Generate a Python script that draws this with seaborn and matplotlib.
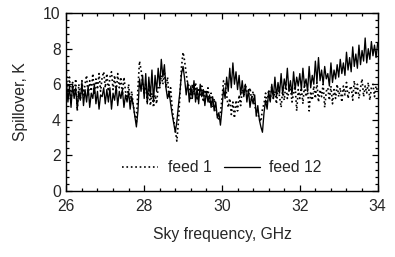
import numpy as np
import pandas as pd
import matplotlib
matplotlib.use("Agg")
import matplotlib.pyplot as plt
from matplotlib.ticker import MultipleLocator
import seaborn as sns

# Spillover vs sky frequency, 26-34 GHz in 0.04 GHz steps
freq = np.round(np.arange(26.0, 34.0001, 0.04), 2)

feed_1 = [
    # 26
    6.7, 5.3, 6.4, 5.0, 6.1, 5.4, 6.3, 4.5, 6.0, 5.1, 6.2, 5.4, 6.0, 6.5, 5.3, 6.2, 5.6, 6.6, 5.4, 6.3, 5.7, 6.6, 5.6, 6.4, 6.7,
    # 27
    5.8, 6.6, 5.6, 6.4, 6.7, 5.7, 6.5, 5.5, 6.6, 5.8, 6.4, 5.4, 6.4, 5.6, 5.2, 6.0, 5.0, 5.6, 4.8, 4.3, 3.8, 5.8, 7.3, 6.8, 6.1,
    # 28
    5.5, 6.0, 5.0, 5.8, 4.8, 5.5, 4.7, 5.4, 4.9, 5.9, 5.8, 6.5, 6.0, 6.7, 5.8, 6.4, 5.2, 5.8, 4.6, 4.0, 3.4, 2.8, 3.9, 5.5, 7.0,
    # 29
    7.8, 7.3, 6.6, 6.0, 5.9, 5.2, 6.0, 5.4, 6.1, 5.1, 5.8, 5.3, 5.9, 5.0, 5.7, 5.2, 5.8, 4.9, 5.5, 4.7, 5.2, 4.6, 4.3, 4.0, 4.4,
    # 30
    5.2, 6.2, 6.0, 5.4, 4.7, 5.2, 4.3, 5.0, 4.1, 5.1, 4.5, 5.4, 4.8, 5.7, 5.4, 6.0, 5.6, 5.3, 5.8, 5.1, 5.6, 4.8, 4.5, 4.3, 4.1,
    # 31
    3.9, 4.6, 4.9, 5.5, 4.9, 5.7, 5.1, 5.9, 5.2, 5.6, 4.9, 5.8, 5.3, 4.7, 5.7, 5.1, 6.0, 5.2, 5.6, 5.8, 5.0, 5.5, 5.9, 4.5, 5.7,
    # 32
    5.2, 5.8, 4.9, 6.0, 5.3, 5.7, 4.5, 5.6, 5.1, 5.9, 5.2, 6.1, 5.0, 5.7, 5.3, 6.0, 4.7, 5.6, 5.8, 5.1, 5.9, 4.9, 5.7, 5.2, 6.0,
    # 33
    5.3, 5.8, 5.0, 5.9, 5.4, 6.1, 5.2, 5.7, 5.9, 5.1, 6.2, 5.4, 6.0, 5.2, 5.8, 6.3, 5.3, 5.9, 5.5, 6.1, 5.1, 5.8, 6.0, 5.3, 5.9,
    # 34
    5.6,
]

feed_12 = [
    # 26
    6.2, 5.0, 5.9, 4.7, 6.0, 5.2, 5.8, 4.6, 5.6, 5.1, 6.1, 4.8, 5.7, 5.0, 5.9, 4.7, 5.5, 5.2, 6.0, 4.9, 5.6, 4.6, 5.4, 5.3, 5.8,
    # 27
    4.9, 5.7, 5.0, 5.8, 4.6, 5.5, 5.1, 5.9, 4.8, 5.6, 5.2, 5.7, 4.7, 5.4, 5.0, 5.6, 4.6, 5.3, 4.8, 4.2, 3.6, 4.5, 6.3, 5.6, 6.5,
    # 28
    5.2, 6.6, 4.9, 6.4, 5.3, 6.8, 5.0, 6.5, 5.6, 6.9, 5.9, 7.4, 6.4, 7.1, 5.8, 5.2, 5.6, 4.9, 4.3, 3.8, 3.3, 3.9, 4.8, 5.6, 6.6,
    # 29
    7.0, 6.3, 5.4, 6.1, 5.0, 5.9, 5.2, 6.2, 5.0, 5.8, 4.9, 6.0, 5.3, 5.7, 4.8, 5.6, 5.0, 5.4, 4.7, 5.3, 4.5, 5.0, 4.1, 4.4, 3.7,
    # 30
    4.6, 5.8, 5.2, 6.4, 5.6, 6.9, 5.8, 7.2, 6.0, 6.7, 5.7, 6.5, 5.4, 6.2, 5.3, 6.0, 5.0, 5.7, 4.7, 5.3, 4.9, 5.4, 4.2, 4.8, 4.0,
    # 31
    3.6, 3.3, 4.4, 5.1, 4.6, 5.6, 5.0, 6.0, 5.2, 6.4, 5.3, 6.1, 5.5, 6.6, 5.4, 6.3, 5.8, 6.9, 5.6, 6.2, 5.4, 6.7, 5.7, 6.4, 5.9,
    # 32
    6.6, 5.7, 6.9, 5.9, 6.3, 5.6, 7.0, 5.8, 6.5, 6.0, 7.3, 6.1, 7.5, 6.2, 6.8, 6.0, 7.0, 6.3, 6.6, 5.9, 7.2, 6.1, 6.8, 6.3, 7.1,
    # 33
    6.4, 7.4, 6.6, 7.2, 6.5, 7.8, 6.8, 7.5, 6.7, 8.1, 7.0, 7.7, 6.9, 8.2, 7.1, 7.9, 7.3, 8.6, 7.2, 8.0, 7.4, 8.4, 7.6, 8.2, 7.5,
    # 34
    8.3,
]

sns.set_style("ticks")
plt.rcParams['font.family'] = ['Liberation Sans', 'DejaVu Sans']

fs = 11.3
fig = plt.figure(figsize=(3.95, 2.57), dpi=100)
ax = fig.add_axes([0.168, 0.257, 0.788, 0.692])

sns.lineplot(x=freq, y=feed_1, ax=ax, color='black', linestyle=':', linewidth=1.2, label='feed 1')
sns.lineplot(x=freq, y=feed_12, ax=ax, color='black', linestyle='-', linewidth=0.95, label='feed 12')

ax.set_xlim(26, 34)
ax.set_ylim(0, 10)
ax.xaxis.set_major_locator(MultipleLocator(2))
ax.xaxis.set_minor_locator(MultipleLocator(0.4))
ax.yaxis.set_major_locator(MultipleLocator(2))
ax.yaxis.set_minor_locator(MultipleLocator(0.4))
ax.tick_params(which='both', direction='in', top=True, right=True, color='black', width=0.9, labelsize=fs)
ax.tick_params(axis='x', pad=6)
ax.tick_params(axis='y', pad=4)
ax.tick_params(which='major', length=4.5)
ax.tick_params(which='minor', length=2.5)
for s in ax.spines.values():
    s.set_color('black')
    s.set_linewidth(1.0)

ax.set_xlabel('Sky frequency, GHz', fontsize=fs, labelpad=9)
ax.set_ylabel('Spillover, K', fontsize=fs, labelpad=11)

ax.legend(loc='lower center', bbox_to_anchor=(0.5, 0.01), ncol=2, frameon=False,
          fontsize=fs, handlelength=2.3, columnspacing=0.8, handletextpad=0.6)

fig.savefig('out.png', dpi=100)
